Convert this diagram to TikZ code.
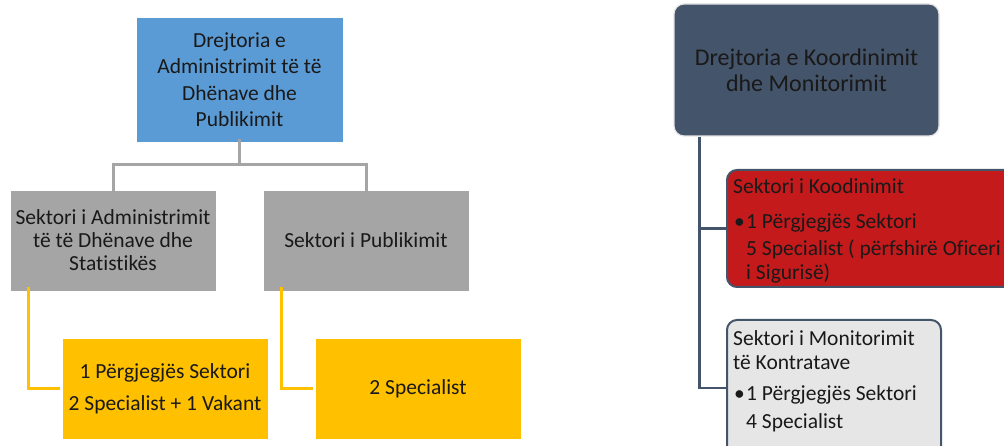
\documentclass[tikz,border=0pt]{standalone}
\usepackage{fontspec}
\setmainfont{Carlito}[Ligatures=NoCommon]
\definecolor{cblue}{HTML}{5B9BD5}
\definecolor{cgray}{HTML}{A5A5A5}
\definecolor{cgold}{HTML}{FFC000}
\definecolor{cnavy}{HTML}{44546A}
\definecolor{cred}{HTML}{C41A1C}
\definecolor{clight}{HTML}{E7E6E6}
\definecolor{cborder}{HTML}{E4E4E4}
\begin{document}
\begin{tikzpicture}[x=1pt,y=-1pt,
  txt/.style={font=\fontsize{21.5}{26.5}\selectfont, text=black!90},
  bigtxt/.style={font=\fontsize{24}{26}\selectfont, text=black!90},
  sqbox/.style={txt, inner sep=0pt, align=center, draw=white, line width=0.6pt},
  bluebox/.style={sqbox, fill=cblue, minimum width=207pt, minimum height=125pt},
  graybox/.style={sqbox, fill=cgray, minimum width=206pt, minimum height=101pt},
  goldbox/.style={sqbox, fill=cgold, minimum width=206pt, minimum height=101pt},
  grayline/.style={draw=cgray, line width=3pt},
  goldline/.style={draw=cgold, line width=2.6pt},
  navyline/.style={draw=cnavy, line width=2.6pt},
  rbox/.style={rounded corners=10pt, line width=2pt, inner sep=0pt},
  ltext/.style={txt, anchor=north west, inner sep=0pt, align=left},
]
\useasboundingbox (0,0) rectangle (1004,446);
\clip (0,0) rectangle (1004,446);

% left chart
\node[bluebox] (d1) at (239.5,79.5) {Drejtoria e\\Administrimit të të\\Dhënave dhe\\Publikimit};
\node[graybox] (s1) at (113,240.5) {Sektori i Administrimit\\[-3.5pt]të të Dhënave dhe\\[-3.5pt]Statistikës};
\node[graybox] (s2) at (366,240.5) {Sektori i Publikimit};
\node[goldbox] (g1) at (165,388.5) {1 Përgjegjës Sektori\\[5.5pt]2 Specialist + 1 Vakant};
\node[goldbox] (g2) at (418,388.5) {2 Specialist};

\coordinate (bar) at (0,165);
\draw[grayline] ([yshift=3pt]d1.south) -- (d1.south |- bar) -| ([yshift=-4pt]s1.north);
\draw[grayline] (d1.south |- bar) -| ([yshift=-4pt]s2.north);
\draw[goldline] ([xshift=19pt,yshift=4pt]s1.south west) |- ([xshift=-2pt]g1.west);
\draw[goldline] ([xshift=19pt,yshift=4pt]s2.south west) |- ([xshift=-2pt]g2.west);

% right chart
\node[rbox, fill=cnavy, draw=cborder, line width=1.2pt, minimum width=265pt, minimum height=132pt] (d2) at (806.5,70) {};
\node[bigtxt, align=center] (d2t) at (806.5,70) {Drejtoria e Koordinimit\\dhe Monitorimit};
\node[rbox, fill=cred, draw=cnavy, minimum width=290pt, minimum height=117pt, anchor=north west] (r1) at (726,169) {};
\node[rbox, fill=clight, draw=cnavy, minimum width=214pt, minimum height=136pt, anchor=north west] (r2) at (726,319) {};

\node[ltext] (r1t) at (733,178) {Sektori i Koodinimit\\[9pt]%
\hspace*{1pt}\makebox[12pt][l]{\textbullet}1 Përgjegjës Sektori\\[0.5pt]
\hspace*{13pt}5 Specialist ( përfshirë Oficeri\\[-2.5pt]
\hspace*{13pt}i Sigurisë)};
\node[ltext] (r2t) at (733,330) {Sektori i Monitorimit\\[-2.5pt]të Kontratave\\[4.5pt]%
\hspace*{1pt}\makebox[12pt][l]{\textbullet}1 Përgjegjës Sektori\\[1.5pt]
\hspace*{13pt}4 Specialist};

\draw[navyline] ([xshift=26pt]d2.south west) |- (r1.west);
\draw[navyline] ([xshift=26pt]d2.south west) |- (r2.west);
\end{tikzpicture}
\end{document}
